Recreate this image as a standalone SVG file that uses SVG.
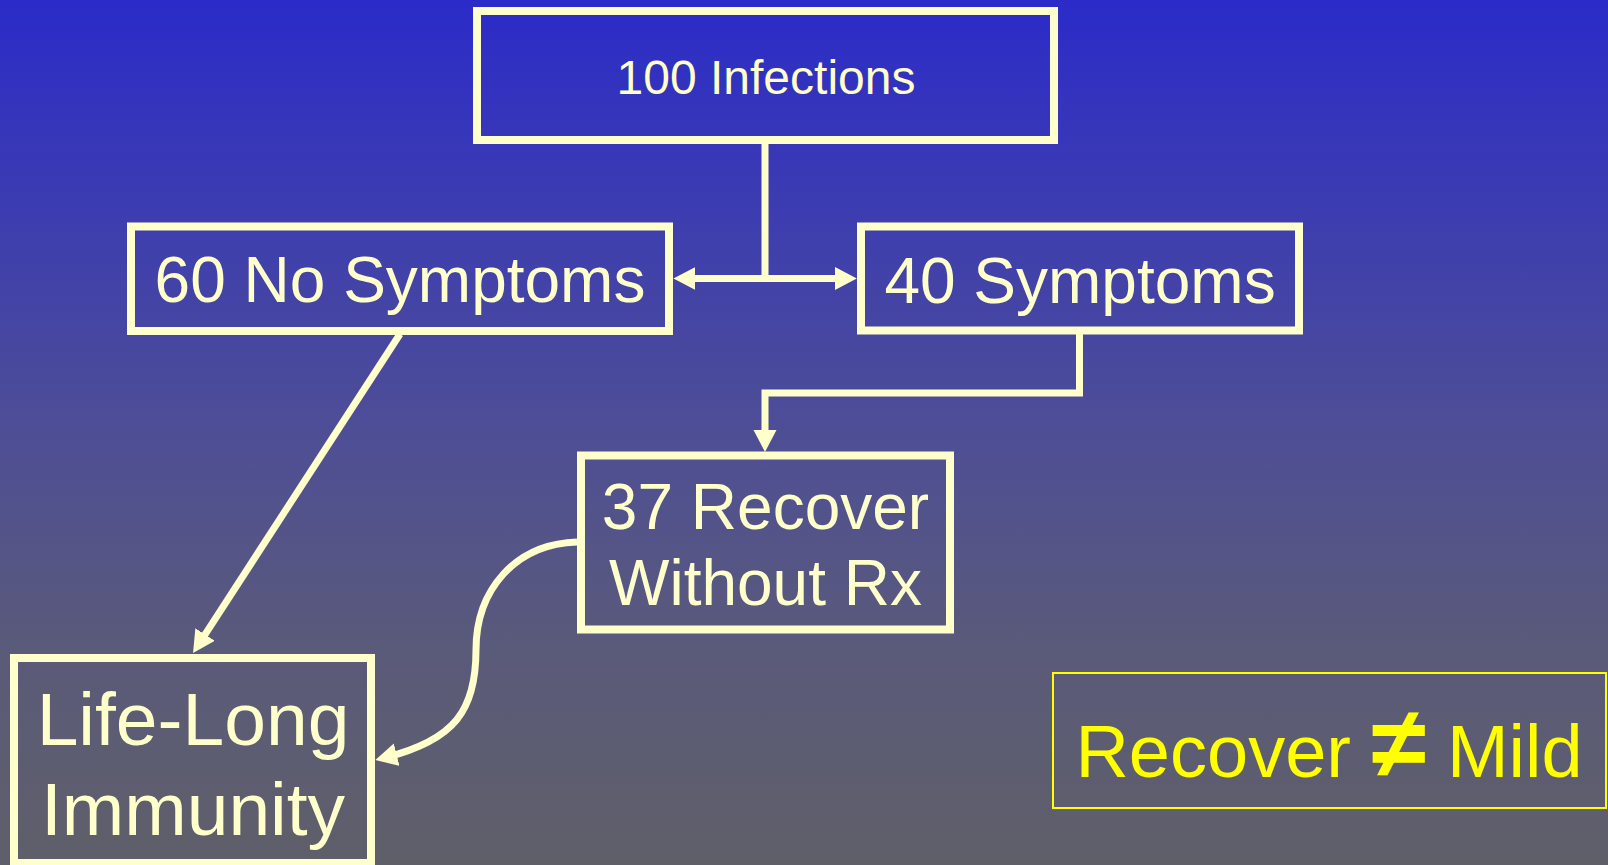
<svg xmlns="http://www.w3.org/2000/svg" width="1608" height="865" viewBox="0 0 1608 865">
<defs>
<linearGradient id="bg" x1="0" y1="0" x2="0" y2="1">
<stop offset="0" stop-color="#2B2BC9"/>
<stop offset="0.25" stop-color="#3D3DB0"/>
<stop offset="0.5" stop-color="#4E4E96"/>
<stop offset="0.75" stop-color="#5A5A7A"/>
<stop offset="1" stop-color="#5F5F69"/>
</linearGradient>
<marker id="ah" markerUnits="userSpaceOnUse" markerWidth="24" markerHeight="24" refX="12" refY="11.5" orient="auto">
<path d="M0,0 L22,11.5 L0,23 Z" fill="#FFFFCC"/>
</marker>
<style>
.box{fill:none;stroke:#FFFFCC;stroke-width:8}
.lbl{font-family:"Liberation Sans",Arial,sans-serif;fill:#FFFFCC;text-anchor:middle}
.con{fill:none;stroke:#FFFFCC;stroke-width:7}
</style>
</defs>
<rect x="0" y="0" width="1608" height="865" fill="url(#bg)"/>
<g id="connectors">
<line class="con" x1="765" y1="144" x2="765" y2="282"/>
<line class="con" x1="765" y1="278.5" x2="683.4" y2="278.5" marker-end="url(#ah)"/>
<line class="con" x1="765" y1="278.5" x2="846.8" y2="278.5" marker-end="url(#ah)"/>
<polyline class="con" points="1079.5,334 1079.5,393 765,393 765,442" marker-end="url(#ah)"/>
<line class="con" x1="400" y1="334" x2="198.5" y2="644.6" marker-end="url(#ah)"/>
<path class="con" d="M577,542 C515,544 476,590 476,650 C476,710 455,740 385,757.6" marker-end="url(#ah)"/>
</g>
<g id="n-infections">
<rect class="box" x="477" y="11" width="577" height="129"/>
<text class="lbl" x="766" y="94" font-size="48">100 Infections</text>
</g>
<g id="n-nosymptoms">
<rect class="box" x="131" y="226.5" width="538" height="104.5"/>
<text class="lbl" x="400" y="302" font-size="64">60 No Symptoms</text>
</g>
<g id="n-symptoms">
<rect class="box" x="861" y="226.5" width="438" height="104"/>
<text class="lbl" x="1080" y="302.5" font-size="64">40 Symptoms</text>
</g>
<g id="n-recover">
<rect class="box" x="581" y="455.5" width="369" height="174"/>
<text class="lbl" x="765.5" y="529" font-size="64">37 Recover</text>
<text class="lbl" x="765.5" y="605" font-size="64">Without Rx</text>
</g>
<g id="n-immunity">
<rect class="box" x="14" y="658" width="357" height="205"/>
<text class="lbl" x="193" y="745" font-size="75">Life-Long</text>
<text class="lbl" x="193" y="835" font-size="75">Immunity</text>
</g>
<g id="n-note">
<rect x="1053" y="673" width="553" height="135" fill="none" stroke="#FFFF00" stroke-width="2"/>
<text x="1329" y="777" font-size="74" font-family="Liberation Sans, Arial, sans-serif" fill="#FFFF00" text-anchor="middle">Recover <tspan font-weight="bold" font-size="100">≠</tspan> Mild</text>
</g>
</svg>
